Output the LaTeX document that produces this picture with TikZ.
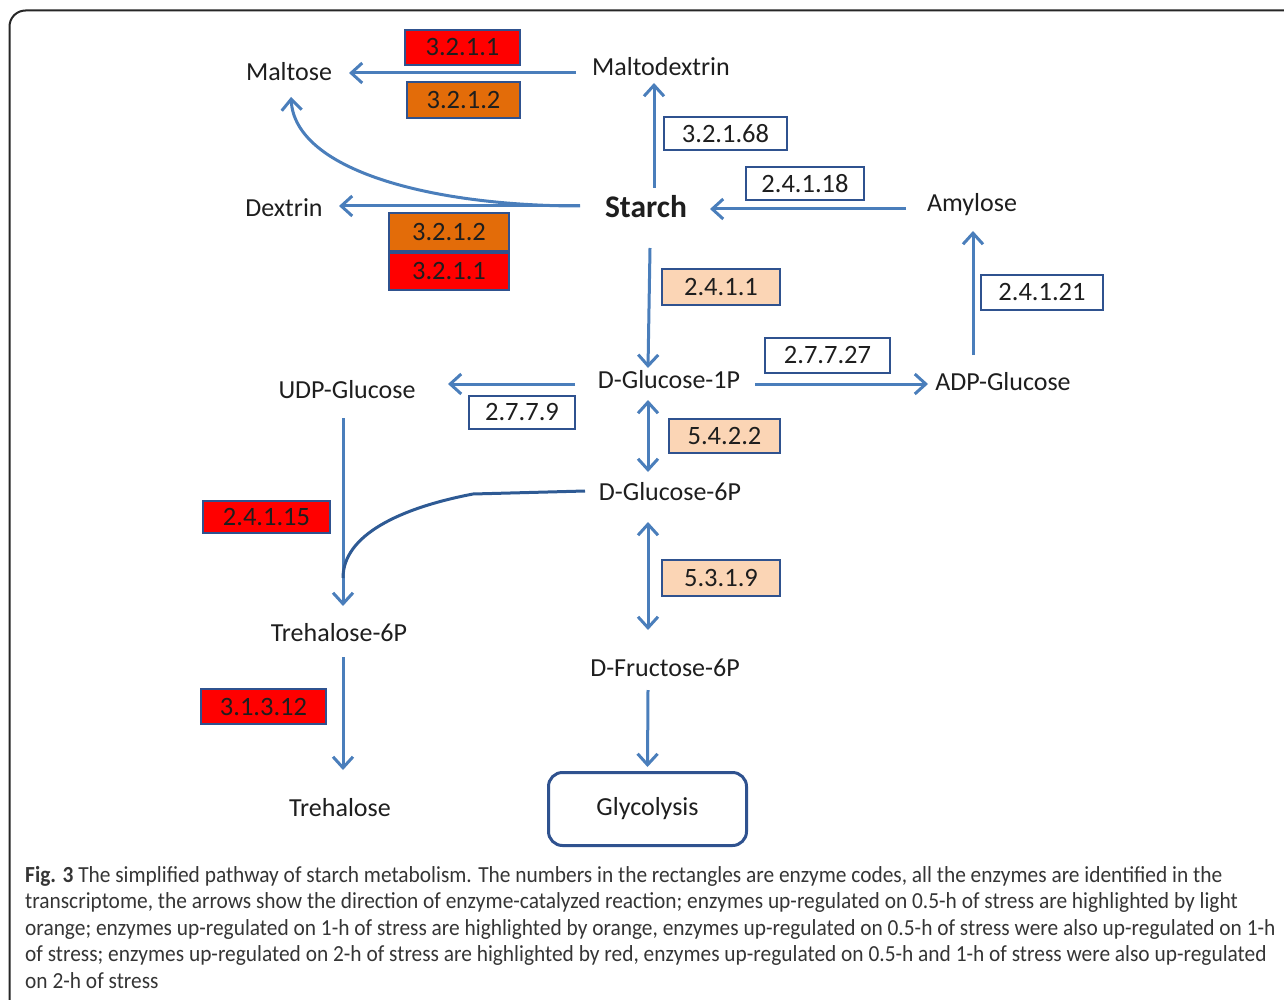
\documentclass[tikz,border=0pt]{standalone}
\usepackage{fontspec}
\setmainfont{Carlito}
\newfontfamily\capfont[FakeStretch=0.93]{Carlito}
\usetikzlibrary{arrows.meta,calc}
\definecolor{arr}{HTML}{4A7EBB}
\definecolor{darr}{HTML}{2E5A94}
\definecolor{bx}{HTML}{2F528F}
\definecolor{redx}{HTML}{FF0000}
\definecolor{org}{HTML}{E36C09}
\definecolor{lorg}{HTML}{FBD5B5}
\definecolor{txt}{HTML}{1E1E1E}
\begin{document}
\begin{tikzpicture}[x=1pt,y=-1pt,
  lbl/.style={inner sep=0pt, text=txt, font=\fontsize{26}{31}\selectfont},
  enz/.style={draw=bx, line width=2.4pt, inner sep=0pt, text=txt, font=\fontsize{26.5}{30}\selectfont},
  rbox/.style={enz, fill=redx},
  obox/.style={enz, fill=org},
  lbox/.style={enz, fill=lorg},
  wbox/.style={enz, fill=white},
  flow/.style={draw=arr, line width=3pt, -{Straight Barb[length=11pt,width=20pt,line width=3pt]}},
  flowb/.style={draw=arr, line width=3pt, {Straight Barb[length=11pt,width=20pt,line width=3pt]}-{Straight Barb[length=11pt,width=20pt,line width=3pt]}},
  capline/.style={anchor=base west, inner sep=0pt, text=txt!90, font=\capfont\fontsize{23}{27}\selectfont}
]
\useasboundingbox (0,0) rectangle (1284,1000);
\begin{scope}
\clip (0,0) rectangle (1284,1000);
\draw[line width=2pt, draw=black!85, rounded corners=16pt] (9.5,10.5) rectangle (1320,1030);
\end{scope}

% metabolites
\node[lbl] (maltose) at (289,72) {Maltose};
\node[lbl] (maltodextrin) at (661,67) {Maltodextrin};
\node[lbl, font=\bfseries\fontsize{31.5}{37}\selectfont] (starch) at (646,207) {Starch};
\node[lbl] (dextrin) at (284,208) {Dextrin};
\node[lbl] (amylose) at (972,205) {Amylose};
\node[lbl] (g1p) at (669,380) {D-Glucose-1P};
\node[lbl] (udp) at (347,390) {UDP-Glucose};
\node[lbl] (adp) at (1003,382) {ADP-Glucose};
\node[lbl] (g6p) at (670,492) {D-Glucose-6P};
\node[lbl] (t6p) at (339,633) {Trehalose-6P};
\node[lbl] (f6p) at (665,668) {D-Fructose-6P};
\node[lbl] (treh) at (340,808) {Trehalose};
\node[draw=bx, line width=3pt, rounded corners=14pt, minimum width=198pt, minimum height=73pt, inner sep=0pt, text=txt, font=\fontsize{26}{31}\selectfont] (glyc) at (647.5,809) {Glycolysis};

% enzymes
\node[rbox, minimum width=115pt, minimum height=35pt] (e1) at (462.5,47.5) {3.2.1.1};
\node[obox, minimum width=113pt, minimum height=36pt] (e2) at (463.5,100) {3.2.1.2};
\node[wbox, minimum width=123pt, minimum height=33pt] (e3) at (725.5,133.5) {3.2.1.68};
\node[wbox, minimum width=118pt, minimum height=33pt] (e4) at (805,183.5) {2.4.1.18};
\node[obox, minimum width=120pt, minimum height=38pt] (e5) at (449,232) {3.2.1.2};
\node[rbox, minimum width=120pt, minimum height=37pt] (e6) at (449,271.5) {3.2.1.1};
\node[lbox, minimum width=118pt, minimum height=36pt] (e7) at (721,287) {2.4.1.1};
\node[wbox, minimum width=122pt, minimum height=35pt] (e8) at (1042,292.5) {2.4.1.21};
\node[wbox, minimum width=125pt, minimum height=35pt] (e9) at (827.5,355.5) {2.7.7.27};
\node[wbox, minimum width=106pt, minimum height=33pt] (e10) at (522,412.5) {2.7.7.9};
\node[lbox, minimum width=111pt, minimum height=34pt] (e11) at (724.5,436) {5.4.2.2};
\node[rbox, minimum width=127pt, minimum height=32pt] (e12) at (266.5,517) {2.4.1.15};
\node[lbox, minimum width=118pt, minimum height=36pt] (e13) at (721,578) {5.3.1.9};
\node[rbox, minimum width=125pt, minimum height=35pt] (e14) at (263.5,706.5) {3.1.3.12};

% connectors
\draw[flow] ($(maltodextrin.center)+(-85,6)$) -- ($(maltose.center)+(60,1)$);
\draw[flow] ($(starch.center)+(8,-19)$) -- ($(maltodextrin.center)+(-7,16)$);
\draw[flow] ($(starch.center)+(-66,-1)$) .. controls +(-150,0) and +(4,73) .. ($(maltose.center)+(2,25)$);
\draw[flow] ($(starch.center)+(-66,-1)$) -- ($(dextrin.center)+(55,-2)$);
\draw[flow] ($(amylose.center)+(-66,4)$) -- ($(starch.center)+(64,2)$);
\draw[flow] ($(adp.center)+(-30,-27)$) -- ($(amylose.center)+(1,26)$);
\draw[flow] ($(starch.center)+(4,41)$) -- ($(g1p.center)+(-21,-12)$);
\draw[flow] ($(g1p.center)+(-94,4)$) -- ($(udp.center)+(101,-6)$);
\draw[flow] ($(g1p.center)+(86,4)$) -- ($(adp.center)+(-75,2)$);
\draw[flowb] ($(g1p.center)+(-21,20)$) -- ($(g6p.center)+(-22,-20)$);
\draw[flowb] ($(g6p.center)+(-22,30)$) -- ($(f6p.center)+(-17,-38)$);
\draw[flow] ($(udp.center)+(-4,28)$) -- ($(t6p.center)+(4,-27)$);
\coordinate (join) at ($(t6p.center)+(4,-55)$);
\draw[draw=darr, line width=3pt] ($(g6p.center)+(-85,-1)$) -- (473,494) .. controls (400,508) and (343,535) .. (join);
\draw[flow] ($(t6p.center)+(4,24)$) -- ($(treh.center)+(3,-38)$);
\draw[flow] ($(f6p.center)+(-17,22)$) -- ($(glyc.north)+(0,-4)$);

% caption
\node[capline] (c1) at (25,882) {\textbf{Fig. 3} The simplified pathway of starch metabolism. The numbers in the rectangles are enzyme codes, all the enzymes are identified in the};
\node[capline] (c2) at (25,908.5) {transcriptome, the arrows show the direction of enzyme-catalyzed reaction; enzymes up-regulated on 0.5-h of stress are highlighted by light};
\node[capline] (c3) at (25,935) {orange; enzymes up-regulated on 1-h of stress are highlighted by orange, enzymes up-regulated on 0.5-h of stress were also up-regulated on 1-h};
\node[capline] (c4) at (25,961.5) {of stress; enzymes up-regulated on 2-h of stress are highlighted by red, enzymes up-regulated on 0.5-h and 1-h of stress were also up-regulated};
\node[capline] (c5) at (25,988) {on 2-h of stress};
\end{tikzpicture}
\end{document}
